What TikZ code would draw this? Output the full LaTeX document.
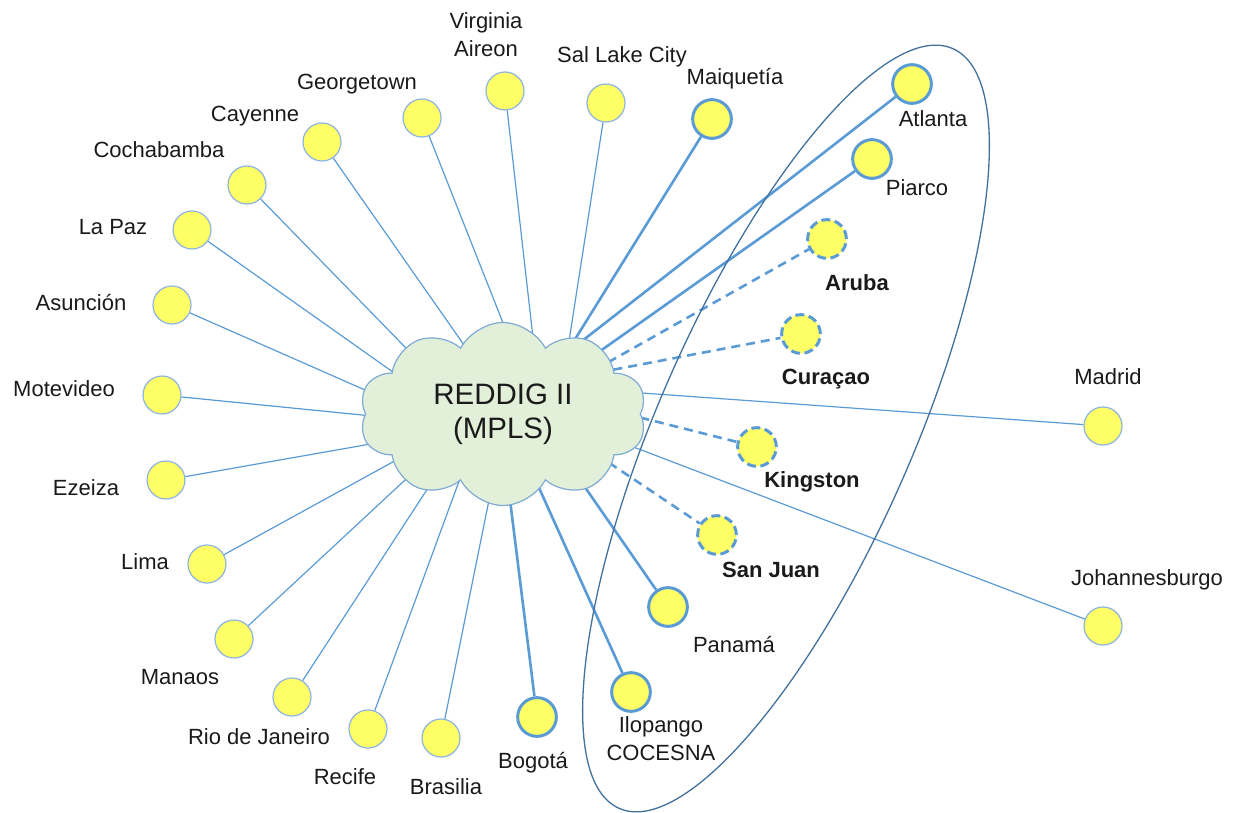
\documentclass[tikz,border=0pt]{standalone}
\usepackage{fontspec}
\setmainfont{Liberation Sans}
\usetikzlibrary{shapes.symbols,shapes.geometric}
\pgfdeclarelayer{bg}
\pgfsetlayers{bg,main}
\definecolor{lineblue}{RGB}{91,155,213}
\definecolor{ringblue}{RGB}{141,180,226}
\definecolor{nodeyellow}{RGB}{255,255,102}
\definecolor{cloudfill}{RGB}{226,239,217}
\definecolor{cloudline}{RGB}{126,170,213}
\definecolor{ellline}{RGB}{65,113,156}
\definecolor{txt}{RGB}{26,26,26}
\begin{document}
\begin{tikzpicture}[x=1pt,y=-1pt,
  site/.style={circle, fill=nodeyellow, draw=ringblue, line width=1.2pt, minimum size=38pt, inner sep=0pt},
  keysite/.style={site, draw=lineblue, line width=3pt, minimum size=38.7pt},
  newsite/.style={keysite, dash pattern=on 9pt off 4.5pt},
  lbl/.style={font=\fontsize{22}{28}\selectfont, text=txt, anchor=base, inner sep=0pt, align=center},
  blbl/.style={lbl, font=\fontsize{22}{28}\selectfont\bfseries},
  link/.style={draw=lineblue, line width=1.2pt, shorten <=-25pt},
  keylink/.style={link, line width=2.6pt},
  newlink/.style={link, line width=2.6pt, dash pattern=on 9pt off 6pt},
  grp/.style={ellipse, draw=ellline, line width=1.3pt, minimum width=829.8pt, minimum height=254.2pt, inner sep=0pt, rotate=66.3},
  cloudnode/.style={cloud, cloud puffs=10, cloud puff arc=125, cloud ignores aspect, minimum width=287pt, minimum height=183pt, fill=cloudfill, draw=cloudline, line width=1.2pt, align=center, font=\fontsize{29.5}{34}\selectfont, text=txt, inner sep=0pt}
]
\useasboundingbox (0,0) rectangle (1233,813);

\node[grp] (group) at (786,428.5) {};
\node[cloudnode] (reddig) at (503,414) {REDDIG II\\(MPLS)};

% sites
\node[site] (virginia) at (505,91) {};
\node[site] (salt) at (606,103) {};
\node[keysite] (maiq) at (712,119) {};
\node[keysite] (atlanta) at (912,84) {};
\node[keysite] (piarco) at (872,159) {};
\node[newsite] (aruba) at (827,239) {};
\node[newsite] (curacao) at (801,334) {};
\node[site] (madrid) at (1103,426) {};
\node[newsite] (kingston) at (757,447) {};
\node[site] (johan) at (1103,626) {};
\node[newsite] (sanjuan) at (717,535) {};
\node[keysite] (panama) at (668,607) {};
\node[keysite] (ilopango) at (631,692) {};
\node[keysite] (bogota) at (537,717) {};
\node[site] (brasilia) at (441,738) {};
\node[site] (recife) at (368,729) {};
\node[site] (rio) at (292,697) {};
\node[site] (manaos) at (234,639) {};
\node[site] (lima) at (207,564) {};
\node[site] (ezeiza) at (166,480) {};
\node[site] (motevideo) at (162,395) {};
\node[site] (asuncion) at (172,305) {};
\node[site] (lapaz) at (192,230) {};
\node[site] (cochabamba) at (247,185) {};
\node[site] (cayenne) at (322,142) {};
\node[site] (georgetown) at (422,118) {};

% labels
\node[lbl, anchor=center] (tvirginia) at (486,35) {Virginia\\Aireon};
\node[lbl] (tsalt) at (622,63) {Sal Lake City};
\node[lbl] (tmaiq) at (735,85) {Maiquetía};
\node[lbl] (tatlanta) at (933,127) {Atlanta};
\node[lbl] (tpiarco) at (917,196) {Piarco};
\node[blbl] (taruba) at (857,290) {Aruba};
\node[blbl] (tcuracao) at (826,384) {Curaçao};
\node[lbl] (tmadrid) at (1108,384) {Madrid};
\node[blbl] (tkingston) at (812,487) {Kingston};
\node[blbl] (tsanjuan) at (771,577) {San Juan};
\node[lbl] (tjohan) at (1147,585) {Johannesburgo};
\node[lbl] (tpanama) at (734,652) {Panamá};
\node[lbl, anchor=center] (tilopango) at (661,739) {Ilopango\\COCESNA};
\node[lbl] (tbogota) at (533,768) {Bogotá};
\node[lbl] (tbrasilia) at (446,794) {Brasilia};
\node[lbl] (trecife) at (345,784) {Recife};
\node[lbl] (trio) at (259,744) {Rio de Janeiro};
\node[lbl] (tmanaos) at (180,684) {Manaos};
\node[lbl] (tlima) at (145,569) {Lima};
\node[lbl] (tezeiza) at (86,495) {Ezeiza};
\node[lbl] (tmotevideo) at (64,396) {Motevideo};
\node[lbl] (tasuncion) at (81,310) {Asunción};
\node[lbl] (tlapaz) at (113,234) {La Paz};
\node[lbl] (tcochabamba) at (159,158) {Cochabamba};
\node[lbl] (tcayenne) at (255,122) {Cayenne};
\node[lbl] (tgeorgetown) at (357,90) {Georgetown};

% connectors
\begin{pgfonlayer}{bg}
\coordinate (cvirginia) at (531,320);
\coordinate (csalt) at (572,322);
\coordinate (cmaiq) at (587,320);
\coordinate (catlanta) at (600,327);
\coordinate (cpiarco) at (613,342);
\coordinate (caruba) at (630,350);
\coordinate (ccuracao) at (638,365);
\coordinate (cmadrid) at (642,393);
\coordinate (ckingston) at (650,420);
\coordinate (cjohan) at (623,443);
\coordinate (csanjuan) at (605,460);
\coordinate (cpanama) at (580,480);
\coordinate (cilopango) at (540,490);
\coordinate (cbogota) at (510,500);
\coordinate (cbrasilia) at (489,500);
\coordinate (crecife) at (454,495);
\coordinate (crio) at (428,488);
\coordinate (cmanaos) at (405,480);
\coordinate (clima) at (380,469);
\coordinate (cezeiza) at (365,445);
\coordinate (cmotevideo) at (362,415);
\coordinate (casuncion) at (365,390);
\coordinate (clapaz) at (383,365);
\coordinate (ccochabamba) at (403,345);
\coordinate (ccayenne) at (457,335);
\coordinate (cgeorgetown) at (507,333);

\draw[link] (cvirginia) -- (virginia);
\draw[link] (csalt) -- (salt);
\draw[keylink] (cmaiq) -- (maiq);
\draw[keylink] (catlanta) -- (atlanta);
\draw[keylink] (cpiarco) -- (piarco);
\draw[newlink] (caruba) -- (aruba);
\draw[newlink] (ccuracao) -- (curacao);
\draw[link] (cmadrid) -- (madrid);
\draw[newlink] (ckingston) -- (kingston);
\draw[link] (cjohan) -- (johan);
\draw[newlink] (csanjuan) -- (sanjuan);
\draw[keylink] (cpanama) -- (panama);
\draw[keylink] (cilopango) -- (ilopango);
\draw[keylink] (cbogota) -- (bogota);
\draw[link] (cbrasilia) -- (brasilia);
\draw[link] (crecife) -- (recife);
\draw[link] (crio) -- (rio);
\draw[link] (cmanaos) -- (manaos);
\draw[link] (clima) -- (lima);
\draw[link] (cezeiza) -- (ezeiza);
\draw[link] (cmotevideo) -- (motevideo);
\draw[link] (casuncion) -- (asuncion);
\draw[link] (clapaz) -- (lapaz);
\draw[link] (ccochabamba) -- (cochabamba);
\draw[link] (ccayenne) -- (cayenne);
\draw[link] (cgeorgetown) -- (georgetown);
\end{pgfonlayer}
\end{tikzpicture}
\end{document}
